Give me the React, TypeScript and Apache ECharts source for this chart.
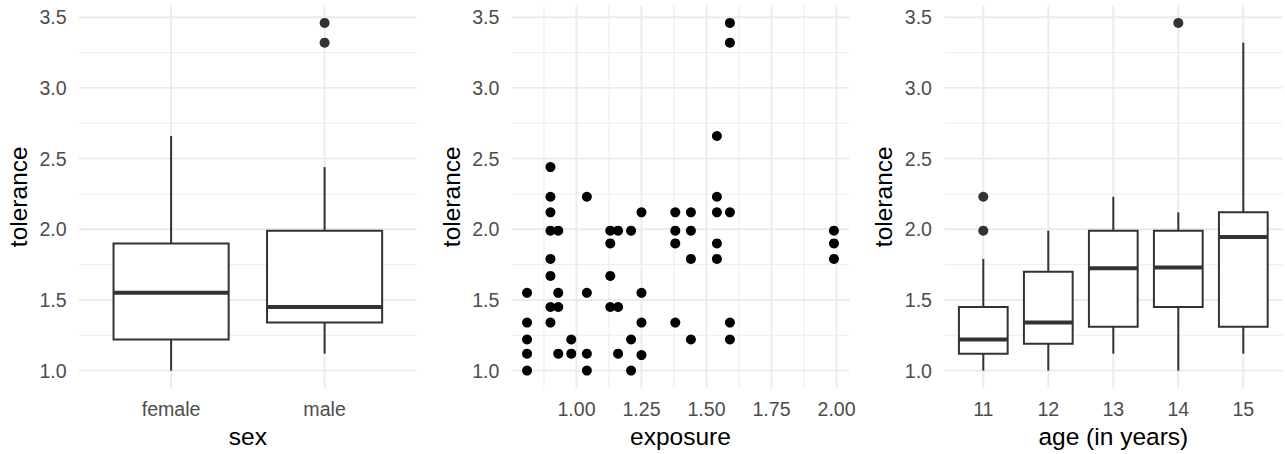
import React, { useEffect, useRef } from "react";
import * as echarts from "echarts";

// ---- data ----
const sexCategories = ["female", "male"];
// [min, q1, median, q3, max]
const sexStats = [
  [1.0, 1.22, 1.55, 1.9, 2.66],
  [1.12, 1.34, 1.45, 1.99, 2.44],
];
const sexOutliers = [
  [2, 3.46],
  [2, 3.32],
];

const exposureX = [
  0.81, 0.81, 0.81, 0.81, 0.81,
  0.9, 0.9, 0.9, 0.9, 0.9, 0.9, 0.9, 0.9,
  0.93, 0.93, 0.93, 0.93,
  0.98, 0.98,
  1.04, 1.04, 1.04, 1.04,
  1.13, 1.13, 1.13, 1.13,
  1.16, 1.16, 1.16,
  1.21, 1.21, 1.21,
  1.25, 1.25, 1.25, 1.25,
  1.38, 1.38, 1.38, 1.38,
  1.44, 1.44, 1.44, 1.44,
  1.54, 1.54, 1.54, 1.54, 1.54,
  1.59, 1.59, 1.59, 1.59, 1.59,
  1.99, 1.99, 1.99,
];
const toleranceY = [
  1.55, 1.34, 1.22, 1.12, 1.0,
  2.44, 2.23, 2.12, 1.99, 1.79, 1.67, 1.45, 1.34,
  1.99, 1.55, 1.45, 1.12,
  1.22, 1.12,
  2.23, 1.55, 1.12, 1.0,
  1.99, 1.9, 1.67, 1.45,
  1.99, 1.45, 1.12,
  1.99, 1.22, 1.0,
  2.12, 1.55, 1.34, 1.11,
  2.12, 1.99, 1.9, 1.34,
  2.12, 1.99, 1.79, 1.22,
  2.66, 2.23, 2.12, 1.9, 1.79,
  3.46, 3.32, 2.12, 1.34, 1.22,
  1.99, 1.9, 1.79,
];

const ageCategories = ["11", "12", "13", "14", "15"];
const ageStats = [
  [1.0, 1.12, 1.22, 1.45, 1.79],
  [1.0, 1.19, 1.34, 1.7, 1.99],
  [1.12, 1.31, 1.725, 1.99, 2.23],
  [1.0, 1.45, 1.73, 1.99, 2.12],
  [1.12, 1.31, 1.945, 2.12, 3.32],
];
const ageOutliers = [
  [1, 2.23],
  [1, 1.99],
  [4, 3.46],
];

const yTicks = [1.0, 1.5, 2.0, 2.5, 3.0, 3.5];
const yMinorTicks = [1.25, 1.75, 2.25, 2.75, 3.25];
const expTicks = [1.0, 1.25, 1.5, 1.75, 2.0];
const expMinorTicks = [0.875, 1.125, 1.375, 1.625, 1.875];

const FONT = "'Liberation Sans', Arial, Helvetica, sans-serif";
const GRID_COLOR = "#ebebeb";
const LINE_COLOR = "#333333";

function App() {
  const ref = useRef<HTMLDivElement>(null);

  useEffect(() => {
    if (!ref.current) return;
    const chart = echarts.init(ref.current, null, { renderer: "svg" });

    const yDataMin = Math.min(...toleranceY);
    const yDataMax = Math.max(...toleranceY);
    const yPad = (yDataMax - yDataMin) * 0.05;
    const yMin = yDataMin - yPad;
    const yMax = yDataMax + yPad;

    const xDataMin = Math.min(...exposureX);
    const xDataMax = Math.max(...exposureX);
    const xPad = (xDataMax - xDataMin) * 0.05;
    const expMin = xDataMin - xPad;
    const expMax = xDataMax + xPad;

    const grids = [
      { left: 79, top: 5.5, width: 337.7, height: 384.5 },
      { left: 511.7, top: 5.5, width: 337.6, height: 384.5 },
      { left: 944.3, top: 5.5, width: 338, height: 384.5 },
    ];

    const xRanges = [
      [0.4, sexCategories.length + 0.6],
      [expMin, expMax],
      [0.4, ageCategories.length + 0.6],
    ];

    const xMajor = [
      sexCategories.map((_, i) => i + 1),
      expTicks,
      ageCategories.map((_, i) => i + 1),
    ];
    const xMinor = [[], expMinorTicks, []];

    const xLabelFormat = [
      (v: number) => sexCategories[Math.round(v) - 1] ?? "",
      (v: number) => v.toFixed(2),
      (v: number) => ageCategories[Math.round(v) - 1] ?? "",
    ];
    const xNames = ["sex", "exposure", "age (in years)"];

    const xAxis = grids.map((_, i) => ({
      type: "value",
      gridIndex: i,
      min: xRanges[i][0],
      max: xRanges[i][1],
      name: xNames[i],
      nameLocation: "middle",
      nameGap: 36,
      nameTextStyle: { fontFamily: FONT, fontSize: 24.5, color: "#000000" },
      axisLine: { show: false },
      axisTick: { show: false },
      splitLine: { show: false },
      axisLabel: {
        customValues: xMajor[i],
        formatter: xLabelFormat[i],
        margin: 11,
        fontFamily: FONT,
        fontSize: 19.6,
        color: "#4d4d4d",
      },
    }));

    const yAxis = grids.map((_, i) => ({
      type: "value",
      gridIndex: i,
      min: yMin,
      max: yMax,
      name: "tolerance",
      nameLocation: "middle",
      nameGap: 48,
      nameTextStyle: { fontFamily: FONT, fontSize: 24.5, color: "#000000" },
      axisLine: { show: false },
      axisTick: { show: false },
      splitLine: { show: false },
      axisLabel: {
        customValues: yTicks,
        formatter: (v: number) => v.toFixed(1),
        margin: 12.3,
        fontFamily: FONT,
        fontSize: 19.6,
        color: "#4d4d4d",
      },
    }));

    const gridSeries = grids.map((_, i) => {
      const data: number[][] = [];
      yTicks.forEach((v) => data.push([xRanges[i][0], v, 0, 1]));
      yMinorTicks.forEach((v) => data.push([xRanges[i][0], v, 0, 0]));
      xMajor[i].forEach((v) => data.push([v, yMin, 1, 1]));
      xMinor[i].forEach((v) => data.push([v, yMin, 1, 0]));
      return {
        type: "custom",
        xAxisIndex: i,
        yAxisIndex: i,
        silent: true,
        z: 0,
        clip: false,
        data,
        renderItem: (params: any, api: any) => {
          const cs = params.coordSys;
          const orient = api.value(2);
          const major = api.value(3) === 1;
          const style = {
            stroke: GRID_COLOR,
            lineWidth: major ? 1.9 : 0.95,
          };
          if (orient === 0) {
            const p = api.coord([api.value(0), api.value(1)]);
            return {
              type: "line",
              shape: { x1: cs.x, y1: p[1], x2: cs.x + cs.width, y2: p[1] },
              style,
            };
          }
          const p = api.coord([api.value(0), api.value(1)]);
          return {
            type: "line",
            shape: { x1: p[0], y1: cs.y, x2: p[0], y2: cs.y + cs.height },
            style,
          };
        },
      };
    });

    const boxRender = (params: any, api: any) => {
      const x = api.value(0);
      const half = api.size([0.75, 0])[0] / 2;
      const pMin = api.coord([x, api.value(1)]);
      const pQ1 = api.coord([x, api.value(2)]);
      const pMed = api.coord([x, api.value(3)]);
      const pQ3 = api.coord([x, api.value(4)]);
      const pMax = api.coord([x, api.value(5)]);
      const lw = 2;
      return {
        type: "group",
        children: [
          {
            type: "line",
            shape: { x1: pMin[0], y1: pMin[1], x2: pQ1[0], y2: pQ1[1] },
            style: { stroke: LINE_COLOR, lineWidth: lw },
          },
          {
            type: "line",
            shape: { x1: pQ3[0], y1: pQ3[1], x2: pMax[0], y2: pMax[1] },
            style: { stroke: LINE_COLOR, lineWidth: lw },
          },
          {
            type: "rect",
            shape: {
              x: pQ3[0] - half,
              y: pQ3[1],
              width: half * 2,
              height: pQ1[1] - pQ3[1],
            },
            style: { fill: "#ffffff", stroke: LINE_COLOR, lineWidth: lw },
          },
          {
            type: "line",
            shape: { x1: pMed[0] - half, y1: pMed[1], x2: pMed[0] + half, y2: pMed[1] },
            style: { stroke: LINE_COLOR, lineWidth: lw * 2 },
          },
        ],
      };
    };

    const sexBoxData = sexStats.map((s, i) => [i + 1, ...s]);
    const ageBoxData = ageStats.map((s, i) => [i + 1, ...s]);
    const scatterData = exposureX.map((x, i) => [x, toleranceY[i]]);

    const option: any = {
      animation: false,
      backgroundColor: "#ffffff",
      grid: grids,
      xAxis,
      yAxis,
      series: [
        ...gridSeries,
        {
          type: "custom",
          xAxisIndex: 0,
          yAxisIndex: 0,
          z: 2,
          data: sexBoxData,
          renderItem: boxRender,
        },
        {
          type: "scatter",
          xAxisIndex: 0,
          yAxisIndex: 0,
          z: 3,
          symbolSize: 10,
          itemStyle: { color: LINE_COLOR, opacity: 1 },
          data: sexOutliers,
        },
        {
          type: "scatter",
          xAxisIndex: 1,
          yAxisIndex: 1,
          z: 3,
          symbolSize: 10,
          itemStyle: { color: "#000000", opacity: 1 },
          data: scatterData,
        },
        {
          type: "custom",
          xAxisIndex: 2,
          yAxisIndex: 2,
          z: 2,
          data: ageBoxData,
          renderItem: boxRender,
        },
        {
          type: "scatter",
          xAxisIndex: 2,
          yAxisIndex: 2,
          z: 3,
          symbolSize: 10,
          itemStyle: { color: LINE_COLOR, opacity: 1 },
          data: ageOutliers,
        },
      ],
    };

    chart.setOption(option);
    return () => chart.dispose();
  }, []);

  return (
    <div
      ref={ref}
      style={{ position: "fixed", left: 0, top: 0, width: 1285, height: 454, background: "#ffffff" }}
    />
  );
}

export default App;
